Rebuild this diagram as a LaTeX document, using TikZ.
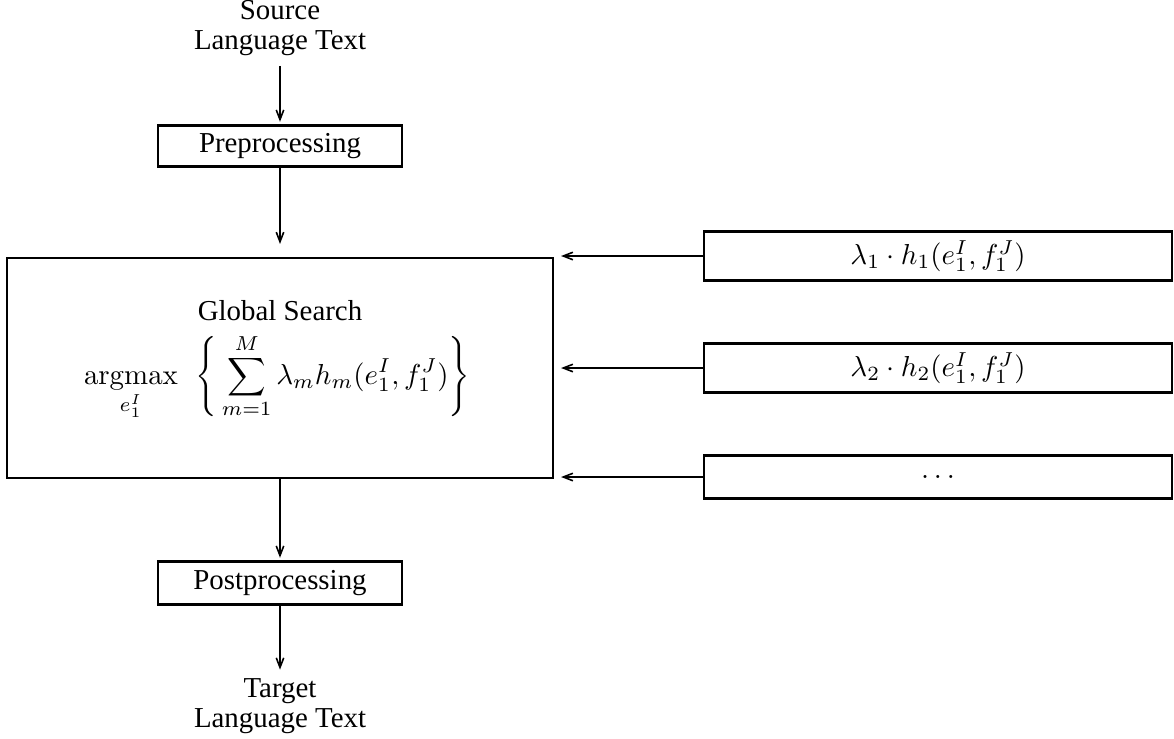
\RequirePackage{fix-cm}
\documentclass[tikz,border=0pt]{standalone}
\usepackage[no-math]{fontspec}
\setmainfont{Liberation Serif}
\usetikzlibrary{arrows.meta}
\def\u{0.374pt}
\begin{document}
\begin{tikzpicture}[x=0.374pt,y=-0.374pt,
  every node/.style={font=\fontsize{10.8}{11.4}\selectfont},
  box/.style={draw,line width=0.8pt,inner sep=0pt},
  lbl/.style={inner sep=0pt,align=center},
  arr/.style={line width=0.8pt,-{Straight Barb[length=3.6pt,width=2.8pt,line width=0.6pt]}}]
\useasboundingbox (0,0) rectangle (1174,738);
% left column
\node[lbl] (src) at (280,28) {Source\\Language Text};
\node[box,minimum width=546*\u,minimum height=220*\u] (gs) at (280,368) {};
\node[box,minimum width=244*\u,minimum height=41*\u] (pre) at (280,146) {Preprocessing};
\node[lbl] (gst) at (280,311) {Global Search};
\node[lbl] (form) at (277,377) {$\displaystyle \mathop{\mathrm{argmax}}\limits_{e_1^I}\;\,\left\{\,\sum_{m=1}^{M}\lambda_m h_m(e_1^I,f_1^J)\right\}$};
\node[box,minimum width=244*\u,minimum height=43*\u] (post) at (280,583) {Postprocessing};
\node[lbl] (tgt) at (280,706) {Target\\Language Text};
% right column
\node[box,minimum width=468*\u,minimum height=49*\u] (f1) at (938,256) {$\lambda_1\cdot h_1(e_1^I,f_1^J)$};
\node[box,minimum width=468*\u,minimum height=49*\u] (f2) at (938,368) {$\lambda_2\cdot h_2(e_1^I,f_1^J)$};
\node[box,minimum width=468*\u,minimum height=43*\u] (f3) at (938,477) {$\ldots$};
% arrows
\draw[arr,shorten >=1pt] ([yshift=-3.5pt]src.south) -- (pre.north);
\draw[arr,shorten >=13*\u] (pre.south) -- (gs.north -| pre.south);
\draw[arr,shorten >=1pt] (gs.south -| post.north) -- (post.north);
\draw[arr,shorten >=3pt] (post.south) -- (tgt.north);
\draw[arr] (f1.west) -- ([xshift=7*\u]gs.east |- f1.west);
\draw[arr] (f2.west) -- ([xshift=7*\u]gs.east |- f2.west);
\draw[arr] (f3.west) -- ([xshift=7*\u]gs.east |- f3.west);
\end{tikzpicture}
\end{document}
